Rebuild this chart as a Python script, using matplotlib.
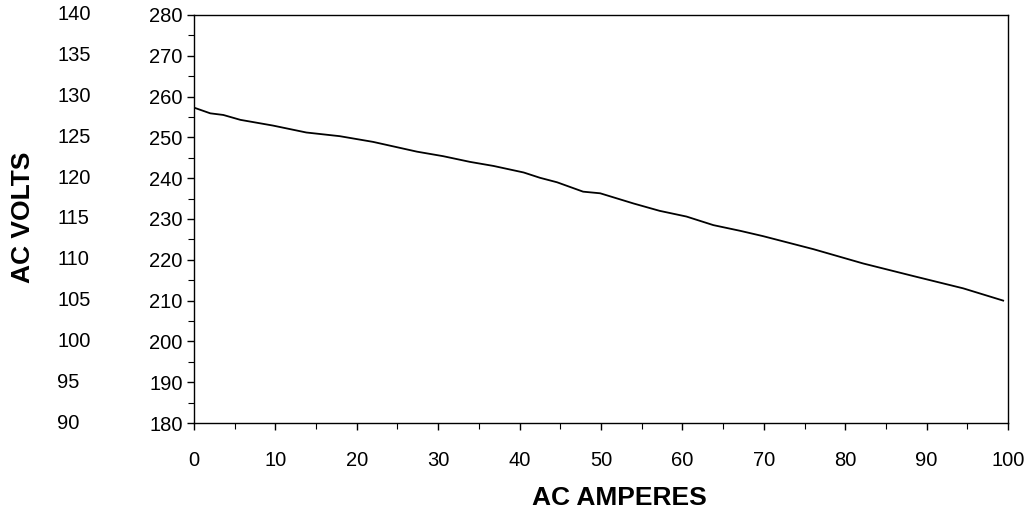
import numpy as np
import matplotlib.pyplot as plt
from matplotlib.ticker import MultipleLocator

plt.rcParams['font.family'] = ['Liberation Sans', 'DejaVu Sans']

# Curve
amps = [0, 2, 3.6, 5.7, 9.7, 13.8, 17.9, 22.0, 27.4, 30.6, 33.9, 36.8, 40.5,
        42.5, 44.6, 47.8, 49.9, 54.0, 57.2, 60.5, 63.8, 67.1, 69.9, 76.1,
        82.2, 88.4, 94.5, 99.4]
volts = [257.3, 255.9, 255.5, 254.3, 252.9, 251.2, 250.3, 248.9, 246.5, 245.4,
         244.0, 243.0, 241.4, 240.1, 239.0, 236.7, 236.3, 233.8, 232.0, 230.6,
         228.5, 227.1, 225.8, 222.6, 219.1, 216.0, 213.0, 210.0]

# Second (120 V) scale shown at far left
volts_220 = [280, 270, 260, 250, 240, 230, 220, 210, 200, 190, 180]
volts_120 = [140, 135, 130, 125, 120, 115, 110, 105, 100, 95, 90]

fig = plt.figure(figsize=(10.34, 5.08), dpi=100)
ax = fig.add_axes([0.1876, 0.1673, 0.9749 - 0.1876, 0.9705 - 0.1673])

ax.plot(amps, volts, color='black', lw=1.3)

ax.set_xlim(0, 100)
ax.set_ylim(180, 280)
ax.xaxis.set_major_locator(MultipleLocator(10))
ax.xaxis.set_minor_locator(MultipleLocator(5))
ax.yaxis.set_major_locator(MultipleLocator(10))
ax.yaxis.set_minor_locator(MultipleLocator(5))
ax.tick_params(which='major', length=5, width=1, labelsize=14.5, pad=3)
ax.tick_params(which='minor', length=4, width=0.8)
ax.tick_params(axis='x', pad=15)
for s in ax.spines.values():
    s.set_linewidth(1)

# left-hand column of 120 V labels
tr = ax.get_yaxis_transform()
for v2, v1 in zip(volts_220, volts_120):
    ax.text(-0.168, v2, str(v1), transform=tr, ha='left', va='center',
            fontsize=14.5, clip_on=False)

ax.text(-0.210, 0.505, 'AC VOLTS', transform=ax.transAxes, rotation=90,
        ha='center', va='center', fontsize=19, fontweight='bold')
ax.text(0.522, -0.201, 'AC AMPERES', transform=ax.transAxes,
        ha='center', va='baseline', fontsize=19, fontweight='bold')

fig.savefig('out.png', dpi=100)
